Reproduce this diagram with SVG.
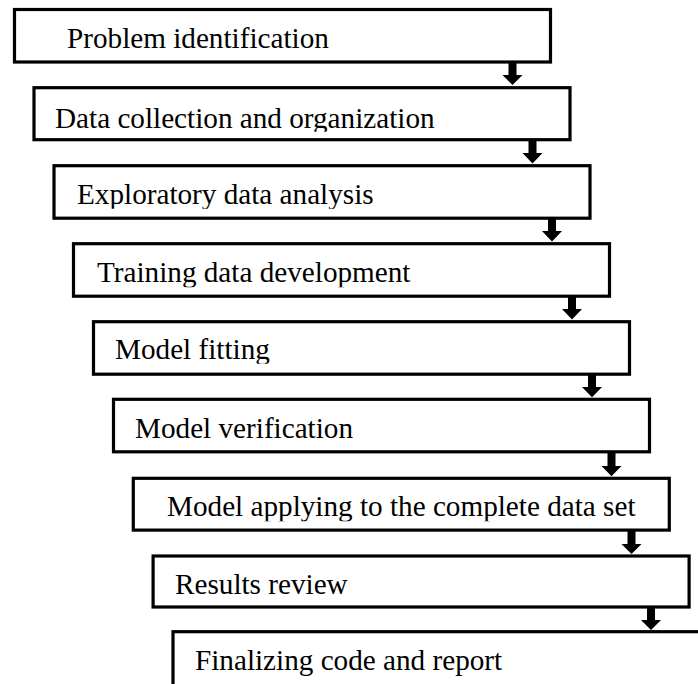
<svg xmlns="http://www.w3.org/2000/svg" width="698" height="684" viewBox="0 0 698 684">
<style>
.box{fill:#fff;stroke:#000;stroke-width:3.2}
.lbl{font-size:29.2px;fill:#000}
.arr{fill:#000;stroke:none}
</style>
<defs>
<clipPath id="c0" clipPathUnits="userSpaceOnUse"><rect x="0" y="9.5" width="698" height="44"/></clipPath>
<clipPath id="c1" clipPathUnits="userSpaceOnUse"><rect x="0" y="87.7" width="698" height="44"/></clipPath>
<clipPath id="c2" clipPathUnits="userSpaceOnUse"><rect x="0" y="165.7" width="698" height="43"/></clipPath>
<clipPath id="c3" clipPathUnits="userSpaceOnUse"><rect x="0" y="243.7" width="698" height="43.5"/></clipPath>
<clipPath id="c4" clipPathUnits="userSpaceOnUse"><rect x="0" y="321.7" width="698" height="42"/></clipPath>
<clipPath id="c5" clipPathUnits="userSpaceOnUse"><rect x="0" y="399.3" width="698" height="44"/></clipPath>
<clipPath id="c6" clipPathUnits="userSpaceOnUse"><rect x="0" y="478.3" width="698" height="43"/></clipPath>
<clipPath id="c7" clipPathUnits="userSpaceOnUse"><rect x="0" y="556" width="698" height="44"/></clipPath>
</defs>
<rect width="698" height="684" fill="#fff"/>

<g font-family="Liberation Serif, DejaVu Serif, serif">
<g id="n1"><rect class="box" x="14.5" y="9.5" width="536" height="52.5"/><text class="lbl" x="67" y="48" clip-path="url(#c0)">Problem identification</text></g>
<g id="n2"><rect class="box" x="34" y="87.7" width="536" height="52"/><text class="lbl" x="55" y="127.5" clip-path="url(#c1)">Data collection and organization</text></g>
<g id="n3"><rect class="box" x="54" y="165.7" width="536" height="52.5"/><text class="lbl" x="77" y="203.5" clip-path="url(#c2)">Exploratory data analysis</text></g>
<g id="n4"><rect class="box" x="73.5" y="243.7" width="536" height="52.5"/><text class="lbl" x="97" y="282" clip-path="url(#c3)">Training data development</text></g>
<g id="n5"><rect class="box" x="93.5" y="321.7" width="536" height="52.5"/><text class="lbl" x="115" y="358.5" clip-path="url(#c4)">Model fitting</text></g>
<g id="n6"><rect class="box" x="113.5" y="399.3" width="536" height="52.5"/><text class="lbl" x="135" y="437.5" clip-path="url(#c5)">Model verification</text></g>
<g id="n7"><rect class="box" x="133.3" y="478.3" width="536" height="51.8"/><text class="lbl" x="167" y="516" clip-path="url(#c6)">Model applying to the complete data set</text></g>
<g id="n8"><rect class="box" x="153.1" y="556" width="536" height="51"/><text class="lbl" x="175" y="594" clip-path="url(#c7)">Results review</text></g>
<g id="n9"><rect class="box" x="173" y="631.7" width="560" height="70"/><text class="lbl" x="195" y="670">Finalizing code and report</text></g>
</g>

<g id="connectors">
<path class="arr" d="M508.5 62V75H502.5L512.5 85L522.5 75H516.5V62Z"/>
<path class="arr" d="M528.5 139.7V153H522.5L532.5 163.5L542.5 153H536.5V139.7Z"/>
<path class="arr" d="M548 218.2V231H542L552 241.5L562 231H556V218.2Z"/>
<path class="arr" d="M568 296.2V309H562L572 319.5L582 309H576V296.2Z"/>
<path class="arr" d="M588 374.2V387H582L592 397.3L602 387H596V374.2Z"/>
<path class="arr" d="M607.5 451.8V466H601.5L611.5 476.3L621.5 466H615.5V451.8Z"/>
<path class="arr" d="M627.5 530.1V544H621.5L631.5 554L641.5 544H635.5V530.1Z"/>
<path class="arr" d="M647 607V620H641L651 630L661 620H655V607Z"/>
</g>
</svg>
